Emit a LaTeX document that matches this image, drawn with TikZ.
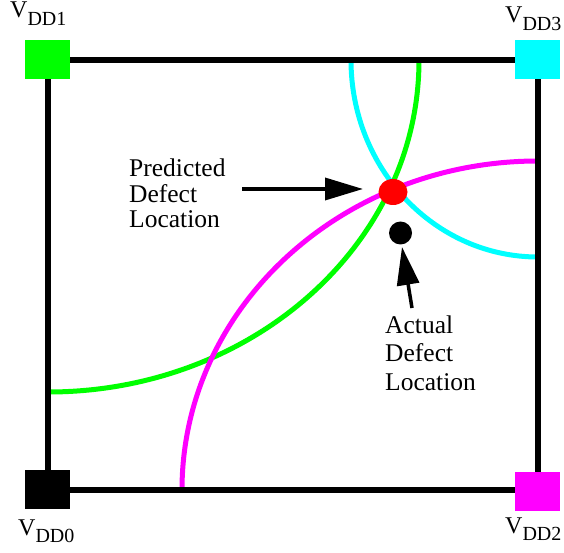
\documentclass[tikz,border=0pt]{standalone}
\usepackage{fontspec}
\newfontfamily\timesfont{LiberationSerif}[Extension=.ttf, UprightFont=*-Regular]
\usetikzlibrary{arrows.meta,shapes.geometric}
\definecolor{pgreen}{RGB}{0,255,0}
\definecolor{pcyan}{RGB}{0,255,255}
\definecolor{pmagenta}{RGB}{255,0,255}
\definecolor{pred}{RGB}{255,0,0}
\tikzset{
  corner/.style={rectangle, minimum width=45pt, minimum height=39pt, inner sep=0pt},
  arcline/.style={line width=5pt},
  frameline/.style={line width=6pt, line join=miter},
  pointer/.style={line width=3.5pt, -{Triangle[length=38pt, width=22pt]}},
  vlabel/.style={anchor=base west, inner sep=0pt, font=\timesfont\fontsize{24}{24}\selectfont},
  txt/.style={anchor=base west, inner sep=0pt, font=\timesfont}
}
\newcommand{\vdd}[1]{V\raisebox{-7.5pt}{\fontsize{20}{20}\selectfont DD#1}}
\begin{document}
\begin{tikzpicture}[x=1pt,y=1pt]
\useasboundingbox (0,0) rectangle (564,552);
\coordinate (c1) at (48,492);
\coordinate (c3) at (538,492);
\coordinate (c0) at (48,62);
\coordinate (c2) at (538,62);
% arcs
\begin{scope}
  \clip (c0) rectangle (c3);
  \draw[arcline, pgreen] (c1) ellipse [x radius=371, y radius=332];
  \draw[arcline, pcyan] (c3) ellipse [x radius=187, y radius=197];
  \draw[arcline, pmagenta] (c2) ellipse [x radius=356, y radius=329];
\end{scope}
% frame
\draw[frameline] (c1) -- (c3) -- (c2) -- (c0) -- cycle;
% corner squares
\node[corner, fill=pgreen] (v1) at (47.5,492.5) {};
\node[corner, fill=pcyan] (v3) at (537.5,492.5) {};
\node[corner, fill=black] (v0) at (47.5,62.5) {};
\node[corner, fill=pmagenta] (v2) at (537.5,61) {};
% corner labels
\node[vlabel] (l1) at (10,534) {\vdd{1}};
\node[vlabel] (l3) at (505,529) {\vdd{3}};
\node[vlabel] (l0) at (18,17) {\vdd{0}};
\node[vlabel] (l2) at (505,19) {\vdd{2}};
% defect points
\node[ellipse, fill=pred, minimum width=29pt, minimum height=26pt, inner sep=0pt] (pdot) at (393,360) {};
\node[circle, fill=black, minimum size=23pt, inner sep=0pt] (adot) at (400.5,319) {};
% texts
\node[txt] (ptext) at (129,375.3) {\fontsize{25.5}{25.3}\selectfont\begin{tabular}[t]{@{}l@{}}Predicted\\Defect\\Location\end{tabular}};
\node[txt] (atext) at (385,218.7) {\fontsize{25.5}{28.5}\selectfont\begin{tabular}[t]{@{}l@{}}Actual\\Defect\\Location\end{tabular}};
% arrows
\coordinate (p1s) at (242,363);
\coordinate (p1e) at (363,363);
\coordinate (p2s) at (412,244);
\coordinate (p2e) at (402,305);
\draw[pointer] (p1s) -- (p1e);
\draw[pointer] (p2s) -- (p2e);
\end{tikzpicture}
\end{document}
